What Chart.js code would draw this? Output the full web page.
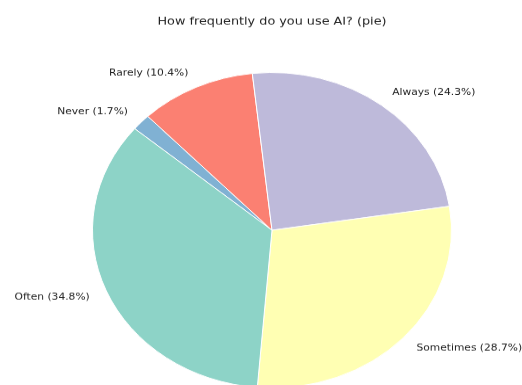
<!DOCTYPE html>
<html>
<head>
<meta charset="utf-8">
<script src="https://cdn.jsdelivr.net/npm/chart.js@4.4.0/dist/chart.umd.min.js"></script>
<style>
  html, body { margin: 0; padding: 0; background: #fff; overflow: hidden; }
  #pie { display: block; }
</style>
</head>
<body>
<canvas id="pie" width="522" height="445" style="width:522px;height:391px"></canvas>
<script>
// data, clockwise from the Never slice
var labels = ['Never', 'Rarely', 'Always', 'Sometimes', 'Often'];
var values = [1.7, 10.4, 24.3, 28.7, 34.8];
var colors = ['#80b1d3', '#fb8072', '#bebada', '#ffffb3', '#8dd3c7'];
var title = 'How frequently do you use AI? (pie)';

var total = values.reduce(function (a, b) { return a + b; }, 0);

// outside labels like matplotlib (1.1 * radius, aligned by side)
var pieLabels = {
    id: 'pieLabels',
    afterDraw: function (chart) {
        var ctx = chart.ctx;
        var arcs = chart.getDatasetMeta(0).data;
        ctx.save();
        ctx.fillStyle = '#222';
        ctx.textBaseline = 'middle';
        ctx.font = '10.7px "DejaVu Sans"';
        arcs.forEach(function (arc, i) {
            var mid = (arc.startAngle + arc.endAngle) / 2;
            var r = arc.outerRadius * 1.1;
            var x = arc.x + Math.cos(mid) * r;
            var y = arc.y + Math.sin(mid) * r;
            ctx.textAlign = Math.cos(mid) >= 0 ? 'left' : 'right';
            var pct = (values[i] / total * 100).toFixed(1);
            ctx.fillText(labels[i] + ' (' + pct + '%)', x, y);
        });
        ctx.textAlign = 'center';
        ctx.font = '12.8px "DejaVu Sans"';
        ctx.fillText(title, 272, 25);
        ctx.restore();
    }
};

var ctx = document.getElementById('pie').getContext('2d');
var chart = new Chart(ctx, {
    type: 'pie',
    data: {
        labels: labels,
        datasets: [{
            data: values,
            backgroundColor: colors,
            borderColor: '#ffffff',
            borderWidth: 1
        }]
    },
    options: {
        responsive: false,
        devicePixelRatio: 1,
        animation: false,
        rotation: -49.9,
        layout: {
            padding: { left: 92, right: 70, top: 82, bottom: 3 }
        },
        plugins: {
            legend: { display: false },
            tooltip: { enabled: false }
        }
    },
    plugins: [pieLabels]
});
</script>
</body>
</html>
